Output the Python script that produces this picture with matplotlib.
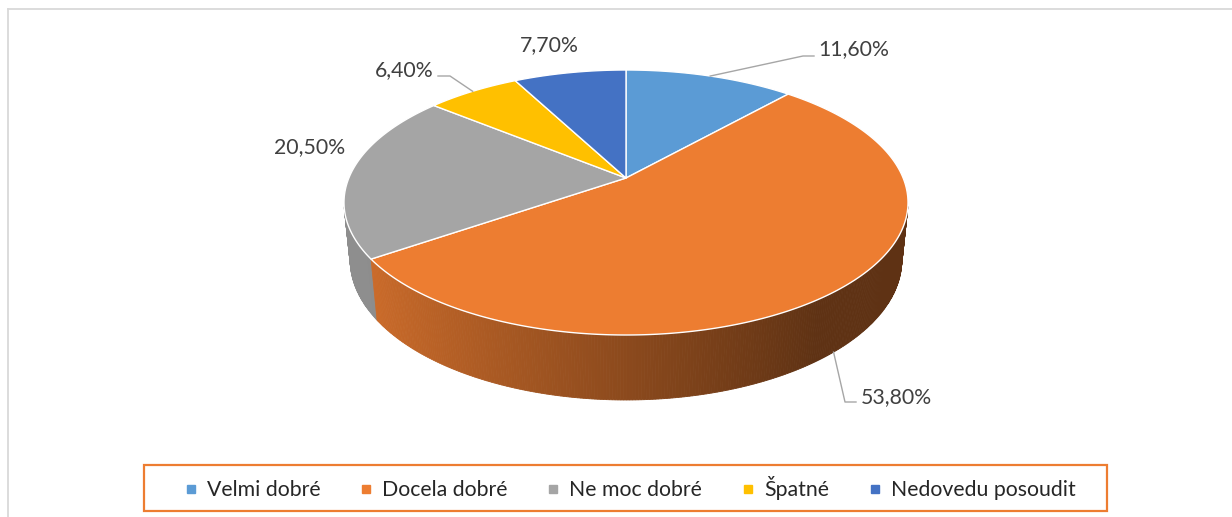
import numpy as np
import matplotlib
matplotlib.use('Agg')
import matplotlib.pyplot as plt
from matplotlib.patches import Polygon, Rectangle
from matplotlib.lines import Line2D

# ---------------- data ----------------
categories = ['Velmi dobré', 'Docela dobré', 'Ne moc dobré', 'Špatné', 'Nedovedu posoudit']
values = [11.6, 53.8, 20.5, 6.4, 7.7]
value_labels = ['11,60%', '53,80%', '20,50%', '6,40%', '7,70%']
colors = ['#5B9BD5', '#ED7D31', '#A5A5A5', '#FFC000', '#4472C4']

# ---------------- layout ----------------
W, H = 1232, 517
CX, CY = 626, 178          # apex of the pie in pixels
HALF_W = 282               # half width of the top ellipse
FAR_NEAR = 265             # vertical span of the top face
phi = np.radians(27)
c, s = np.cos(phi), np.sin(phi)
D = 5.408 * c
TH = 0.23                  # thickness of the pie (radius = 1)

def proj(x, y, z):
    up = y * s + z * c
    depth = D + y * c - z * s
    return x / depth, up / depth

tt = np.radians(np.linspace(0, 360, 3601))
umax = np.max(proj(np.sin(tt), np.cos(tt), 0)[0])
Ku = HALF_W / umax
vfar = proj(0, 1, 0)[1]
vnear = proj(0, -1, 0)[1]
Kv = FAR_NEAR / (vfar - vnear)

def to_px(x, y, z):
    u, v = proj(np.asarray(x, float), np.asarray(y, float), np.asarray(z, float))
    return CX + Ku * u, CY - Kv * v

def shade(hexcol, f):
    r, g, b = matplotlib.colors.to_rgb(hexcol)
    return (r * f, g * f, b * f)

fig = plt.figure(figsize=(W / 100, H / 100), dpi=100)
ax = fig.add_axes([0, 0, 1, 1])
ax.set_xlim(0, W)
ax.set_ylim(H, 0)
ax.axis('off')

# chart frame (light grey)
ax.add_line(Line2D([8, W], [9, 9], color='#D9D9D9', lw=1.3))
ax.add_line(Line2D([8, 8], [9, H], color='#D9D9D9', lw=1.3))

total = float(sum(values))
bounds = np.concatenate([[0], np.cumsum(values)]) / total * 360.0

# ---- side walls ----
quads = []
for i, col in enumerate(colors):
    a0, a1 = bounds[i], bounds[i + 1]
    n = max(int((a1 - a0) / 0.5), 2)
    angs = np.radians(np.linspace(a0, a1, n + 1))
    for k in range(n):
        ta, tb = angs[k], angs[k + 1]
        tm = 0.5 * (ta + tb)
        if np.cos(tm) > -1.0 / (D * c) + 0.02:
            continue
        xs = [np.sin(ta), np.sin(tb), np.sin(tb), np.sin(ta)]
        ys = [np.cos(ta), np.cos(tb), np.cos(tb), np.cos(ta)]
        zs = [0, 0, -TH, -TH]
        px, py = to_px(xs, ys, zs)
        nx = np.sin(tm)
        f = np.clip(0.59 - 0.32 * nx, 0.40, 0.86)
        depth = D + np.cos(tm) * c
        quads.append((depth, np.column_stack([px, py]), shade(col, f)))
quads.sort(key=lambda q: -q[0])
for _, pts, fc in quads:
    ax.add_patch(Polygon(pts, closed=True, facecolor=fc, edgecolor=fc, lw=0.6, zorder=2))

# ---- top faces ----
for i, col in enumerate(colors):
    a0, a1 = bounds[i], bounds[i + 1]
    angs = np.radians(np.linspace(a0, a1, max(int((a1 - a0) * 2), 4)))
    xs = np.concatenate([[0], np.sin(angs)])
    ys = np.concatenate([[0], np.cos(angs)])
    px, py = to_px(xs, ys, np.zeros_like(xs))
    ax.add_patch(Polygon(np.column_stack([px, py]), closed=True, facecolor=col,
                         edgecolor='white', lw=1.0, joinstyle='round', zorder=3))

# ---- data labels ----
FONT = 'Lato'
FS = 15.3
TXT = '#404040'
LEAD = '#A6A6A6'
mid = np.radians(0.5 * (bounds[:-1] + bounds[1:]))

# label positions (px, layout) and leader elbows
label_pos = {0: (818, 49, 'left'), 1: (861, 397, 'left'), 2: (310, 147, 'center'),
             3: (433, 70, 'right'), 4: (549, 45, 'center')}
for i, (lx, ly, ha) in label_pos.items():
    ax.text(lx, ly, value_labels[i], fontsize=FS, family=FONT, color=TXT,
            ha=ha, va='center', zorder=5)

# leader: Velmi dobré (from top face)
sx, sy = to_px(np.sin(mid[0]), np.cos(mid[0]), 0)
ax.add_line(Line2D([sx, 803, 814], [sy, 56, 56], color=LEAD, lw=1.0, zorder=4))
# leader: Docela dobré (from bottom rim)
sx, sy = to_px(np.sin(mid[1]), np.cos(mid[1]), -TH)
ax.add_line(Line2D([sx, 845, 856], [sy, 402, 402], color=LEAD, lw=1.0, zorder=4))
# leader: Špatné
sx, sy = to_px(np.sin(mid[3]), np.cos(mid[3]), 0)
ax.add_line(Line2D([sx, 450, 438], [sy, 76, 76], color=LEAD, lw=1.0, zorder=4))

# ---- legend ----
ax.add_patch(Rectangle((144, 465), 1107 - 144, 511 - 465, facecolor='white',
                       edgecolor='#ED7D31', lw=1.6, zorder=4))
handles = [Line2D([], [], marker='s', ls='none', color=col, markersize=5.5) for col in colors]
leg = ax.legend(handles, categories, loc='center', bbox_to_anchor=(630, 488),
                bbox_transform=ax.transData, ncol=5, frameon=False,
                prop={'family': FONT, 'size': FS}, handlelength=0.6,
                handletextpad=0.45, columnspacing=1.85, borderpad=0)
for t in leg.get_texts():
    t.set_color('#262626')
leg.set_zorder(6)

fig.savefig('out.png', dpi=100)
